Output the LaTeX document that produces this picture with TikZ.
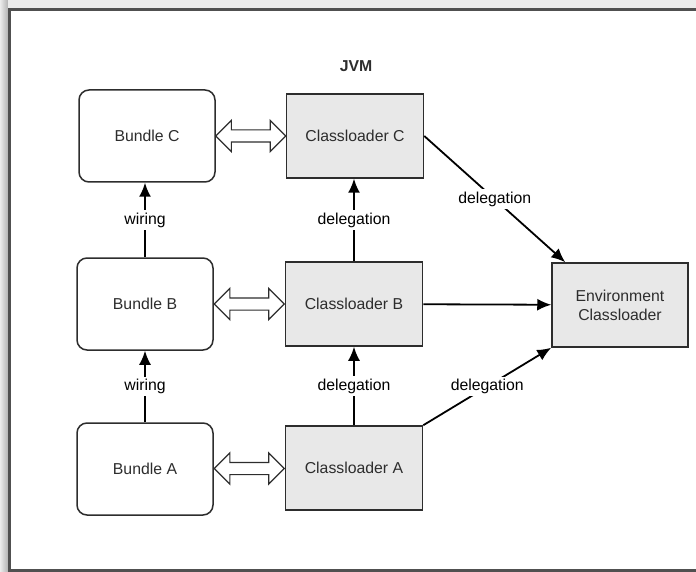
\documentclass[tikz,border=0pt]{standalone}
\usepackage{fontspec}
\setmainfont{Liberation Sans}
\usetikzlibrary{arrows.meta,shapes.arrows,calc}

\definecolor{boxgray}{RGB}{232,232,232}
\definecolor{linegray}{RGB}{45,45,45}
\definecolor{framegray}{RGB}{80,80,80}

\begin{document}
\begin{tikzpicture}
[x=1pt, y=-1pt, font=\fontsize{15.8}{19}\selectfont, text=linegray,
% STYLES
% Bundles are white rounded boxes, classloaders grey boxes
bundle/.style={rectangle, draw=linegray, line width=1.5pt, rounded corners=10pt, fill=white, minimum width=136pt, minimum height=92pt},
loader/.style={rectangle, draw=linegray, line width=1.5pt, fill=boxgray, minimum width=137pt, minimum height=84pt, align=center},
% The hollow double arrow between a bundle and its classloader
bridge/.style={double arrow, draw=linegray, line width=1.2pt, fill=white, minimum height=70pt, inner sep=5.5pt, double arrow head extend=9.5pt},
tag/.style={fill=white, inner sep=2.5pt},
flow/.style={-{Latex[length=14pt,width=12pt]}, line width=1.8pt, color=black}]

\useasboundingbox (0,0) rectangle (696,572);
\clip (0,0) rectangle (696,572);

% Frame with its shadow
\shade[left color=gray!15, right color=gray!60] (0,0) rectangle (8,572);
\fill[gray!15] (8,0) rectangle (696,8);
\draw[framegray, line width=3pt] (9,9.5) rectangle (720,570);

\node[font=\fontsize{15.8}{19}\selectfont\bfseries] (jvm) at (356,66) {JVM};

% Bundles
\node[bundle] (bc) at (147,136) {Bundle C};
\node[bundle] (bb) at (145,304) {Bundle B};
\node[bundle] (ba) at (145,469) {Bundle A};

% Classloaders
\node[loader] (cc) at (355,136) {Classloader C};
\node[loader] (cb) at (354,304) {Classloader B};
\node[loader] (ca) at (354,468) {Classloader A};
\node[loader, minimum width=136pt] (env) at (620,305) {Environment\\Classloader};

\node[bridge] (lc) at ($(bc.east)!0.5!(cc.west)$) {};
\node[bridge] (lb) at ($(bb.east)!0.5!(cb.west)$) {};
\node[bridge] (la) at ($(ba.east)!0.5!(ca.west)$) {};

%%%%%%%%%%%%%%%%

\path[flow]
(bb.north) edge node[tag] {wiring} (bb.north |- bc.south)
(ba) edge node[tag] {wiring} (bb)
(cb) edge node[tag] {delegation} (cb.north |- cc.south)
(ca) edge node[tag] {delegation} (cb)
(cb) edge (env)
(cc.east) edge node[tag] {delegation} ($(env.north west)+(14,0)$)
(ca.north east) edge node[tag] {delegation} (env.south west);

\end{tikzpicture}
\end{document}
